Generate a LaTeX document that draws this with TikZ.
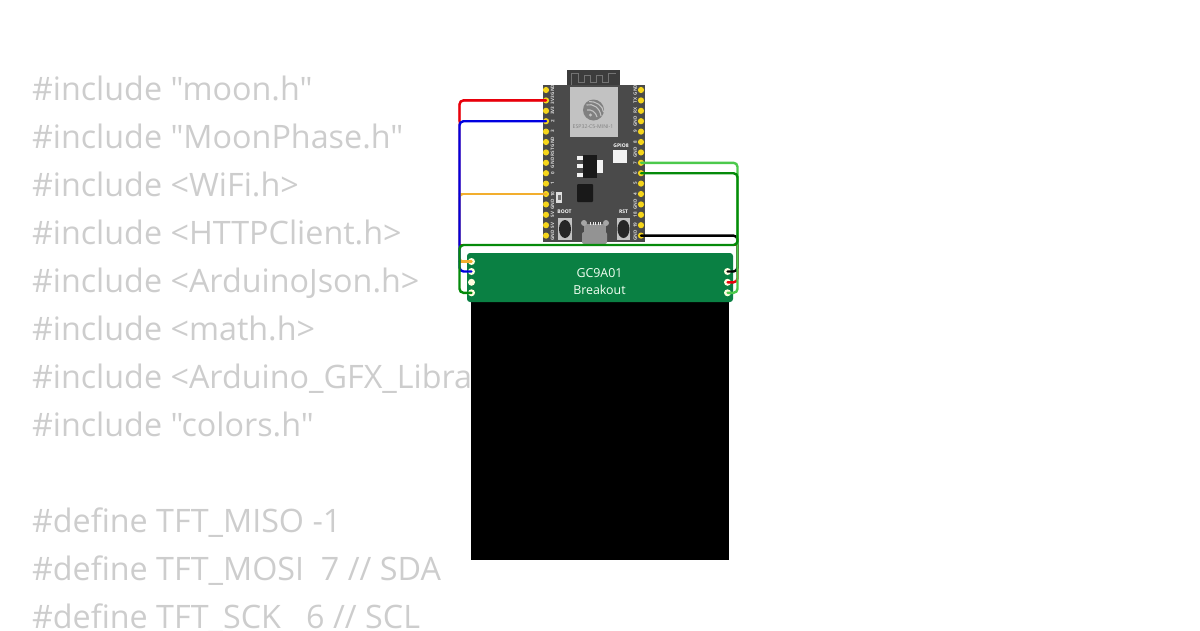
\documentclass[tikz,border=0pt]{standalone}
\usepackage{fontspec}
\setmainfont{Open Sans}
\newfontfamily\codefont{Open Sans}
\definecolor{codegray}{HTML}{CDCDCD}
\definecolor{pcb}{HTML}{4A4A4A}
\definecolor{antenna}{HTML}{3C3C3C}
\definecolor{shield}{HTML}{C2C2C2}
\definecolor{brk}{HTML}{0A8043}
\definecolor{pinY}{HTML}{F5D51B}
\definecolor{wred}{HTML}{E8000B}
\definecolor{wblue}{HTML}{0000E0}
\definecolor{worange}{HTML}{F2AE2E}
\definecolor{wgreen}{HTML}{058A0A}
\definecolor{wlime}{HTML}{4CC94C}
\tikzset{
  codeline/.style={anchor=base west,inner sep=0pt,outer sep=0pt,text=codegray,font=\codefont\fontsize{32.3}{32.3}\selectfont},
  silk/.style={inner sep=0pt,text=white!85!black,font=\bfseries\fontsize{4.6}{4.6}\selectfont,rotate=90},
  silkh/.style={inner sep=0pt,text=white,font=\bfseries\fontsize{5}{5}\selectfont},
  espin/.style={circle,fill=pinY,minimum size=6.2pt,inner sep=0pt,outer sep=0pt},
  brpin/.style={circle,fill=white!88!yellow,minimum size=7pt,inner sep=0pt,outer sep=0pt},
  wire/.style={line width=2.4pt,rounded corners=4pt,line cap=round},
  underwire/.style={line width=1.8pt,rounded corners=4pt,line cap=round},
  brktext/.style={inner sep=0pt,text=white!95!green,font=\fontsize{12.4}{12.4}\selectfont},
  btnbase/.style={fill=shield,draw=none},
  btncap/.style={fill=black!85,draw=none}
}
\begin{document}
\begin{tikzpicture}[x=1pt,y=-1pt]
\useasboundingbox (0,0) rectangle (1200,630);
% code behind
\node[codeline] (c1) at (32,100) {\#include "moon.h"};
\node[codeline] (c2) at (32,148) {\#include "MoonPhase.h"};
\node[codeline] (c3) at (32,196) {\#include <WiFi.h>};
\node[codeline] (c4) at (32,244) {\#include <HTTPClient.h>};
\node[codeline] (c5) at (32,292) {\#include <ArduinoJson.h>};
\node[codeline] (c6) at (32,340) {\#include <math.h>};
\node[codeline] (c7) at (32,388) {\#include <Arduino\_GFX\_Library.h>};
\node[codeline] (c8) at (32,436) {\#include "colors.h"};
\node[codeline] (c9) at (32,532) {\#define TFT\_MISO -1};
\node[codeline] (c10) at (32,580) {\#define TFT\_MOSI\ \ 7 // SDA};
\node[codeline] (c11) at (32,628) {\#define TFT\_SCK\ \ \ 6 // SCL};
% display
\fill[black] (471,300) rectangle (729,560);
\fill[brk,rounded corners=3pt] (467,253) rectangle (733,302);
\node[brktext] (t1) at (599.5,273) {GC9A01};
\node[brktext] (t2) at (599.5,290) {Breakout};
\node[brpin] (bl1) at (471.5,261.5) {};
\node[brpin] (bl2) at (471.5,271.5) {};
\node[brpin] (bl3) at (471.5,282.3) {};
\node[brpin] (bl4) at (471.5,292.8) {};
\node[brpin] (br2) at (727.5,271.5) {};
\node[brpin] (br3) at (727.5,282.3) {};
\node[brpin] (br4) at (727.5,292.8) {};
% ESP32 board
\fill[antenna] (567,70) rectangle (620,86);
\draw[black!55,line width=.6pt] (571,85) -- (571,73) -- (578,73) -- (578,82) -- (584,82) -- (584,75) -- (590,75) -- (590,82) -- (596,82) -- (596,75) -- (602,75) -- (602,82) -- (608,82) -- (608,73) -- (616,73);
\fill[pcb] (543,85) rectangle (645,242);
\fill[shield] (570,87) rectangle (618,137);
\fill[black!50] (593.5,110) circle (10.5);
\draw[shield,line width=1.1pt] (586.5,105) .. controls (593,103) and (600,108) .. (601,116);
\draw[shield,line width=1.1pt] (587,110) .. controls (591,109) and (596,112) .. (597,117);
\draw[shield,line width=1.1pt] (589,101.5) .. controls (596,101) and (603,106) .. (603.5,112);
\fill[shield] (590.5,115) circle (1.7);
\node[inner sep=0pt,text=black!50,font=\fontsize{5.2}{5.2}\selectfont] (modname) at (593,127) {ESP32-C5-MINI-1};
\node[silkh] (gp8) at (621,145.5) {GPIO8};
\fill[white!90!gray] (613,150) rectangle (627,163);
% regulator
\fill[black!90] (583,155) rectangle (597,178);
\fill[white!90!gray] (577,156) rectangle (583,160);
\fill[white!90!gray] (577,164) rectangle (583,168);
\fill[white!90!gray] (577,173) rectangle (583,177);
\fill[white!90!gray] (597,160) rectangle (603,173);
% mcu
\fill[black!90,rounded corners=1pt] (577,184) rectangle (593,202);
% small LED
\fill[white!75!gray] (556,192) rectangle (562,203);
\fill[black!55] (557.5,195) rectangle (560.5,200);
% buttons
\node[silkh] (bootl) at (564.5,212) {BOOT};
\node[silkh] (rstl) at (623.5,212) {RST};
\fill[btnbase] (558,218) rectangle (572,240);
\fill[btnbase] (617,218) rectangle (630,240);
\fill[btncap] (565,229) ellipse (6 and 9);
\fill[btncap] (623.5,229) ellipse (6 and 9);
% USB
\fill[gray!85] (584,224) rectangle (606,233);
\fill[gray!85,rounded corners=2pt] (582,232) rectangle (607,244);
\fill[gray!70] (584,223) circle (3);
\fill[gray!70] (606,223) circle (3);
\foreach \u in {590,592.5,595,597.5,600} {\fill[white!85!gray] (\u,221.5) rectangle +(1.2,3.5);}
% pins and silk
\foreach \i/\t in {0/GND,1/3V3,2/3V3,3/2,4/3,5/GND,6/RST,7/GND,8/0,9/1,10/10,11/GND,12/5V,13/5V,14/GND} {
  \pgfmathsetmacro{\py}{90+10.4*\i}
  \node[espin] (L\i) at (546,\py) {};
  \node[silk] (LT\i) at (552.6,\py) {\t};
}
\foreach \i/\t in {0/GND,1/TX,2/RX,3/GND,4/9,5/8,6/GND,7/7,8/6,9/5,10/4,11/GND,12/18,13/19,14/GND} {
  \pgfmathsetmacro{\py}{90+10.4*\i}
  \node[espin] (R\i) at (641,\py) {};
  \node[silk] (RT\i) at (635.2,\py) {\t};
}
% routing rails
\coordinate (railL) at (459.5,245);
\coordinate (railR) at (737.5,245);
% wires
\draw[underwire,wred] (L1.center) -| (railL);
\draw[underwire,wred] (railL) -- (railR);
\draw[wire,wred] (railR) |- (br3.center);
\draw[wire,wred] (L1.center) -| (L3 -| railL);
\draw[underwire,worange] (L10.center) -| (railL) |- (bl1.center);
\draw[wire,worange] (L10.center) -- (L10 -| railL);
\draw[wire,worange] (railL |- bl1) -- (bl1.center);
\draw[wire,wblue] (L3.center) -| (railL) |- (bl2.center);
\draw[wire,black] (R14.center) -| (railR) |- (br2.center);
\draw[wire,wlime] (R7.center) -| (railR) |- (br4.center);
\draw[wire,wgreen] (R8.center) -| (railR) -- (railL) |- (bl4.center);
\end{tikzpicture}
\end{document}
